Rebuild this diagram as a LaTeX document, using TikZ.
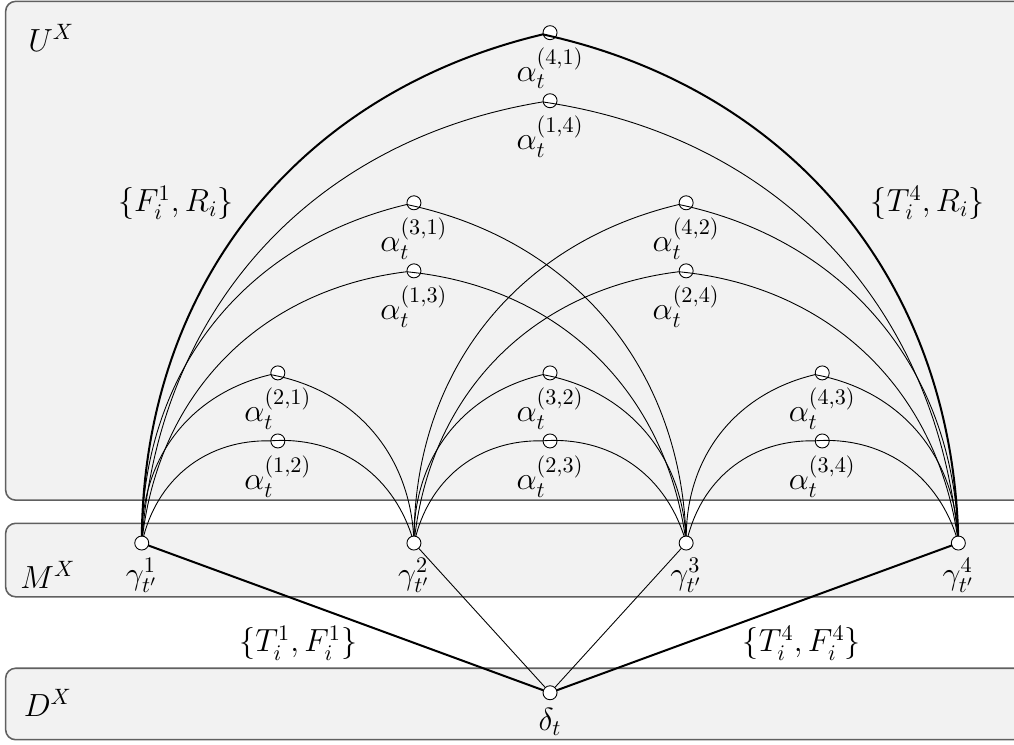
\documentclass[tikz,border=0pt]{standalone}
\usepackage{amsmath}
\usetikzlibrary{positioning}

\begin{document}
\begin{tikzpicture}[
    x=1.076cm, y=1.076cm, line cap=round,
    layer/.style ={draw=gray!75!black, fill=gray!10, rounded corners=4.5pt, line width=0.7pt},
    vtx/.style   ={circle, draw, fill=white, inner sep=0pt, minimum size=6.3pt},
    lab/.style   ={font=\Large},
    arc/.style   ={bend left=38},
    heavy/.style ={line width=0.9pt}
]
\useasboundingbox (-2.083, -2.954) rectangle (12.818, 7.98);

% layers
\draw[layer] (-2.0, 0.63) rectangle (13.3, 7.96);
\draw[layer] (-2.0, -0.79) rectangle (13.3, 0.29);
\draw[layer] (-2.0, -2.89) rectangle (13.3, -1.84);
\node[lab] (ux) at (-1.33, 7.42) {$U^X$};
\node[lab] (mx) at (-1.38, -0.47) {$M^X$};
\node[lab] (dx) at (-1.38, -2.35) {$D^X$};

% gamma and delta
\foreach \i/\x in {1/0, 2/4, 3/8, 4/12}
  \node[vtx, label={[lab]below:$\gamma_{t'}^{\i}$}] (g\i) at (\x, 0) {};
\node[vtx, label={[lab]below:$\delta_t$}] (d) at (6, -2.2) {};

% alpha (upper row of each pair, then lower row)
\node[vtx, label={[lab]below:$\alpha_t^{(4,1)}$}] (a41) at (6, 7.5) {};
\node[vtx, label={[lab]below:$\alpha_t^{(1,4)}$}] (a14) at (6, 6.5) {};
\node[vtx, label={[lab]below:$\alpha_t^{(3,1)}$}] (a31) at (4, 5) {};
\node[vtx, label={[lab]below:$\alpha_t^{(1,3)}$}] (a13) at (4, 4) {};
\node[vtx, label={[lab]below:$\alpha_t^{(4,2)}$}] (a42) at (8, 5) {};
\node[vtx, label={[lab]below:$\alpha_t^{(2,4)}$}] (a24) at (8, 4) {};
\node[vtx, label={[lab]below:$\alpha_t^{(2,1)}$}] (a21) at (2, 2.5) {};
\node[vtx, label={[lab]below:$\alpha_t^{(1,2)}$}] (a12) at (2, 1.5) {};
\node[vtx, label={[lab]below:$\alpha_t^{(3,2)}$}] (a32) at (6, 2.5) {};
\node[vtx, label={[lab]below:$\alpha_t^{(2,3)}$}] (a23) at (6, 1.5) {};
\node[vtx, label={[lab]below:$\alpha_t^{(4,3)}$}] (a43) at (10, 2.5) {};
\node[vtx, label={[lab]below:$\alpha_t^{(3,4)}$}] (a34) at (10, 1.5) {};

% arcs
\draw[heavy] (g1) to[arc] (a41) to[arc] (g4);
\foreach \u/\a/\v in {1/14/4, 1/31/3, 1/13/3, 2/42/4, 2/24/4,
                      1/21/2, 1/12/2, 2/32/3, 2/23/3, 3/43/4, 3/34/4}
  \draw (g\u) to[arc] (a\a) to[arc] (g\v);

% down to delta
\draw[heavy] (g1) -- (d) -- (g4);
\draw (g2) -- (d) -- (g3);

% edge sets
\node[lab] (fr) at (0.5, 5) {$\{F_i^1, R_i\}$};
\node[lab] (tr) at (11.55, 5) {$\{T_i^4, R_i\}$};
\node[lab] (tf1) at (2.3, -1.47) {$\{T_i^1, F_i^1\}$};
\node[lab] (tf4) at (9.7, -1.47) {$\{T_i^4, F_i^4\}$};
\end{tikzpicture}
\end{document}
